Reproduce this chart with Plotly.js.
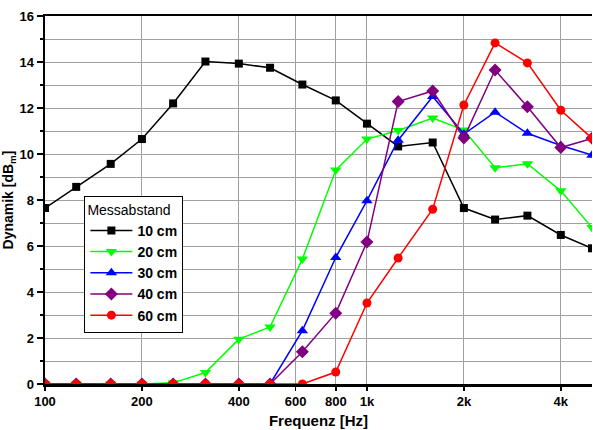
<!DOCTYPE html>
<html>
<head>
<meta charset="utf-8">
<script src="https://cdn.plot.ly/plotly-3.0.1.min.js"></script>
<style>html,body{margin:0;padding:0;background:#fff}#chart{width:593px;height:430px}</style>
</head>
<body>
<div id="chart"></div>
<script>
const freq = [100,125,160,200,250,315,400,500,630,800,1000,1250,1600,2000,2500,3150,4000,5000];
const cm10 = [7.65,8.57,9.57,10.65,12.2,14.02,13.93,13.75,13.02,12.33,11.32,10.33,10.5,7.65,7.15,7.32,6.48,5.9];
const cm20 = [0,0,0,0,0.05,0.5,1.95,2.48,5.43,9.3,10.65,11.02,11.56,11.04,9.4,9.58,8.4,6.8];
const cm30 = [0,0,0,0,0,0,0,0,2.32,5.5,7.97,10.6,12.5,10.87,11.82,10.9,10.37,9.95];
const cm40 = [0,0,0,0,0,0,0,0,1.4,3.08,6.17,12.28,12.74,10.7,13.65,12.05,10.28,10.68];
const cm60 = [0,0,0,0,0,0,0,0,0,0.52,3.52,5.48,7.6,12.13,14.83,13.96,11.9,10.68];
const names = ['10 cm','20 cm','30 cm','40 cm','60 cm'];
const tickVals = [100,200,400,600,800,1000,2000,4000];
const tickText = ['100','200','400','600','800','1k','2k','4k'];

const series = [cm10,cm20,cm30,cm40,cm60];
const colors = ['#000000','#00ff00','#0000ff','#800080','#ff0000'];
const symbols = ['square','triangle-down','triangle-up','diamond','circle'];
const sizes = [8,10,10,10,9];

const traces = series.map((s,i)=>({
  x: freq, y: s, name: names[i], type:'scatter', mode:'lines+markers',
  line:{color:colors[i], width:1.5},
  marker:{symbol:symbols[i], color:colors[i], size:sizes[i]}
}));

const ff = 'Liberation Sans, Arial, sans-serif';
const layout = {
  width:593, height:430,
  margin:{l:45, r:1, t:16, b:46},
  paper_bgcolor:'#fff', plot_bgcolor:'#fff',
  font:{family:ff, size:12, color:'#000', weight:'bold'},
  showlegend:true,
  legend:{
    x:0.072, y:0.512, xanchor:'left', yanchor:'top',
    bgcolor:'#fff', bordercolor:'#000', borderwidth:1,
    font:{family:ff, size:14, color:'#000', weight:'bold'},
    title:{text:'Messabstand', font:{family:ff, size:14, color:'#000', weight:'normal'}},
    tracegroupgap:0, itemwidth:42
  },
  xaxis:{
    type:'log', range:[Math.log10(100), Math.log10(5000)],
    tickvals:tickVals, ticktext:tickText,
    showgrid:true, gridcolor:'#a0a0a0', gridwidth:1,
    showline:true, linecolor:'#000', linewidth:2.5, mirror:true,
    ticks:'outside', ticklen:4, tickcolor:'#000', tickwidth:1.5,
    tickfont:{family:ff, size:13, color:'#000', weight:'bold'},
    zeroline:false,
    title:{text:'Frequenz [Hz]', standoff:8, font:{family:ff, size:15, color:'#000', weight:'bold'}}
  },
  yaxis:{
    range:[0,16], dtick:2, tick0:0,
    showgrid:true, gridcolor:'#a0a0a0', gridwidth:1,
    showline:true, linecolor:'#000', linewidth:2.5,
    ticks:'outside', ticklen:6, tickcolor:'#000', tickwidth:1.5,
    tickfont:{family:ff, size:13, color:'#000', weight:'bold'},
    zeroline:false,
    minor:{dtick:1, showgrid:true, gridcolor:'#a0a0a0', gridwidth:1, ticks:'outside', ticklen:3, tickcolor:'#000'},
    title:{text:'Dynamik [dB<sub>m</sub>]', standoff:4, font:{family:ff, size:14, color:'#000', weight:'bold'}}
  }
};
Plotly.newPlot('chart', traces, layout, {displayModeBar:false, staticPlot:true});
</script>
</body>
</html>
